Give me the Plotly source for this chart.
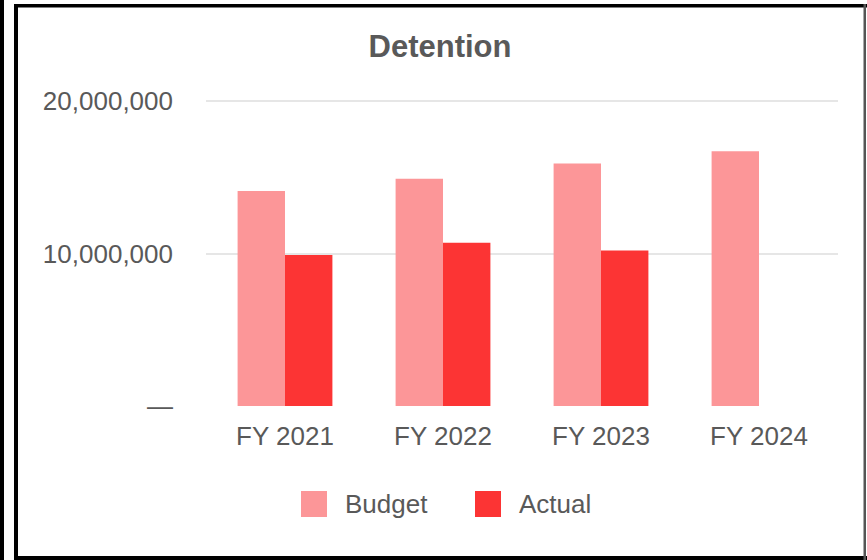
import plotly.graph_objects as go

categories = ["FY 2021", "FY 2022", "FY 2023", "FY 2024"]
budget = [14_100_000, 14_900_000, 15_900_000, 16_700_000]
actual = [9_900_000, 10_700_000, 10_200_000, None]
series_names = ["Budget", "Actual"]
series_colors = ["#FC9698", "#FC3434"]
y_tickvals = [0, 10_000_000, 20_000_000]
y_ticktext = ["—", "10,000,000", "20,000,000"]
title_text = "Detention"

W, H = 867, 560
L, R, T, B = 206, 29, 98, 154
PW, PH = W - L - R, H - T - B
YMAX = 20_000_000 * PH / 305.0

def px(x):
    return (x - L) / PW

def py(y):
    return (H - B - y) / PH

FONT = "Liberation Sans, Arial, sans-serif"
GREY = "#595959"

fig = go.Figure()
for name, vals, col in zip(series_names, [budget, actual], series_colors):
    fig.add_trace(go.Bar(x=categories, y=vals, name=name, marker=dict(color=col, line=dict(width=0)),
                         showlegend=False))

shapes = []
annotations = []
# manual legend
leg_sq = [301, 475]
for name, col, x0 in zip(series_names, series_colors, leg_sq):
    shapes.append(dict(type="rect", xref="paper", yref="paper", x0=px(x0), x1=px(x0 + 26),
                       y0=py(517), y1=py(491), fillcolor=col, line=dict(width=0)))
    annotations.append(dict(text=name, xref="paper", yref="paper", x=px(x0 + 42), y=py(504),
                            xanchor="left", yanchor="middle", showarrow=False,
                            font=dict(family=FONT, size=26, color=GREY)))
# frame
shapes.append(dict(type="rect", xref="paper", yref="paper", x0=px(0), x1=px(4), y0=py(560), y1=py(0),
                   fillcolor="black", line=dict(width=0), layer="above"))
for (x0, x1, y0, y1, c) in [(14, 18, 4, 560, "black"),      # inner left
                            (14, 867, 4, 7.5, "black"),     # top
                            (14, 867, 556, 560, "black"),   # bottom
                            (863.5, 866, 4, 560, "#555555")]:  # right
    shapes.append(dict(type="rect", xref="paper", yref="paper", x0=px(x0), x1=px(x1),
                       y0=py(y1), y1=py(y0), fillcolor=c, line=dict(width=0), layer="above"))

fig.update_layout(
    width=W, height=H,
    margin=dict(l=L, r=R, t=T, b=B),
    paper_bgcolor="white", plot_bgcolor="white",
    barmode="group", bargap=0.4, bargroupgap=0,
    title=dict(text="<b>" + title_text + "</b>", x=px(440), xref="paper", xanchor="center",
               y=1 - 46 / H, yanchor="middle", yref="container",
               font=dict(family=FONT, size=31, color=GREY)),
    xaxis=dict(showgrid=False, showline=False, zeroline=False, ticks="",
               tickfont=dict(family=FONT, size=26, color=GREY), ticklabelstandoff=12),
    yaxis=dict(range=[0, YMAX], tickvals=y_tickvals, ticktext=y_ticktext,
               showgrid=True, gridcolor="#E6E6E6", gridwidth=2, zeroline=False, showline=False,
               ticks="", ticklabelstandoff=32,
               tickfont=dict(family=FONT, size=26, color=GREY)),
    shapes=shapes, annotations=annotations,
    showlegend=False,
)

fig.write_html("out.html", config={"displayModeBar": False},
               post_script="document.body.style.margin='0';document.body.style.padding='0';")
